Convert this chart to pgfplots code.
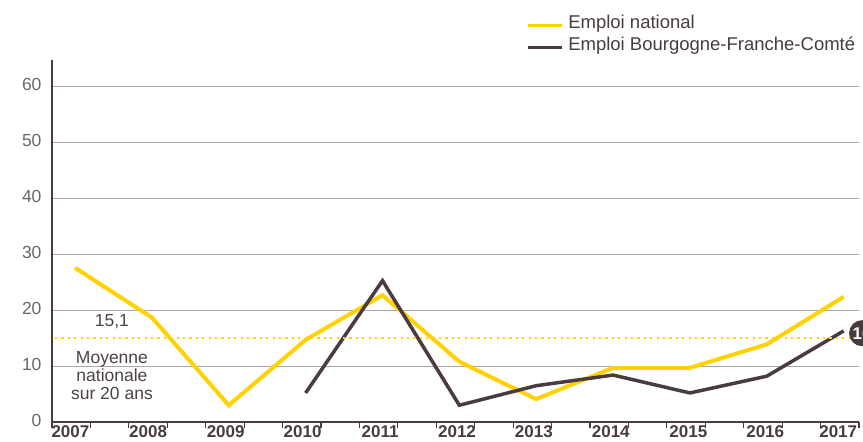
\documentclass[border=0pt]{standalone}
\usepackage{pgfplots}
\pgfplotsset{compat=1.18}
\usepackage{fontspec}
\setmainfont{Liberation Sans}
\definecolor{jaune}{HTML}{FFD200}
\definecolor{brun}{HTML}{4A3C3C}
\definecolor{grille}{HTML}{ABA5A5}
\definecolor{texte}{HTML}{4D4343}
\definecolor{gristick}{HTML}{6E6565}
\begin{document}
\begin{tikzpicture}
\begin{axis}[
  scale only axis, width=807pt, height=362pt,
  xmin=2006.7, xmax=2017.2, ymin=0, ymax=64.8,
  axis x line*=bottom, axis y line*=left,
  axis line style={-, brun, line width=1.3pt},
  ytick={0,10,20,30,40,50,60},
  ymajorgrids, grid style={grille, line width=0.9pt},
  y tick style={draw=none},
  yticklabel style={font=\fontsize{17.5}{19}\selectfont, text=gristick, xshift=-1pt, yshift=2pt},
  /pgf/number format/assume math mode=true,
  xtick={2006.7,2007.2,2007.7,2008.2,2008.7,2009.2,2009.7,2010.2,2010.7,2011.2,2011.7,2012.2,2012.7,2013.2,2013.7,2014.2,2014.7,2015.2,2015.7,2016.2,2016.7,2017.2},
  xticklabels={},
  x tick style={brun, line width=1.1pt},
  major tick length=6pt, tick align=outside,
  extra x ticks={2006.94,2007.95,2008.96,2009.96,2010.97,2011.97,2012.97,2013.97,2014.98,2015.98,2016.93},
  extra x tick labels={2007,2008,2009,2010,2011,2012,2013,2014,2015,2016,2017},
  extra x tick style={major tick length=0pt, xmajorgrids=false,
     tick label style={font=\fontsize{17}{19}\selectfont\bfseries, text=brun, yshift=-0.5pt}},
  clip=false,
  legend style={at={(0.588,1.131)}, anchor=north west, draw=none, fill=none,
     font=\fontsize{18.5}{20}\selectfont, text=brun, row sep=3pt, column sep=3pt, inner sep=0pt,
     nodes={inner sep=2pt}},
  legend cell align=left,
  legend image code/.code={\draw[#1, line width=2.6pt] (0pt,-3pt) -- (34pt,-3pt);},
]
\addplot[jaune, line width=4pt, line join=miter] coordinates {
  (2007,27.6) (2008,18.7) (2009,3.0) (2010,14.7) (2011,22.7) (2012,10.8)
  (2013,4.1) (2014,9.7) (2015,9.7) (2016,13.9) (2017,22.4)};
\addlegendentry{Emploi national}
\addplot[brun, line width=3.5pt, line join=miter] coordinates {
  (2010,5.2) (2011,25.3) (2012,3.0) (2013,6.5) (2014,8.4) (2015,5.2)
  (2016,8.2) (2017,16.3)};
\addlegendentry{Emploi Bourgogne-Franche-Comté}
\addplot[jaune, line width=2.2pt, dash pattern=on 2.2pt off 4.2pt, forget plot] coordinates {
  (2006.74,15.1) (2017.2,15.1)};
\node[text=texte, font=\fontsize{17.5}{19}\selectfont] at (axis cs:2007.48,17.9) {15,1};
\node[text=texte, font=\fontsize{17.5}{18}\selectfont, align=center] at (axis cs:2007.48,8.4) {Moyenne\\nationale\\sur 20 ans};
\node[overlay, circle, fill=brun, text=white, minimum size=26pt, inner sep=0pt,
      font=\fontsize{17}{19}\selectfont\bfseries] at (axis cs:2017.24,15.9) {16};
\end{axis}
\pgfresetboundingbox
\useasboundingbox (-52pt,-20pt) rectangle (811pt,422pt);
\end{tikzpicture}
\end{document}
